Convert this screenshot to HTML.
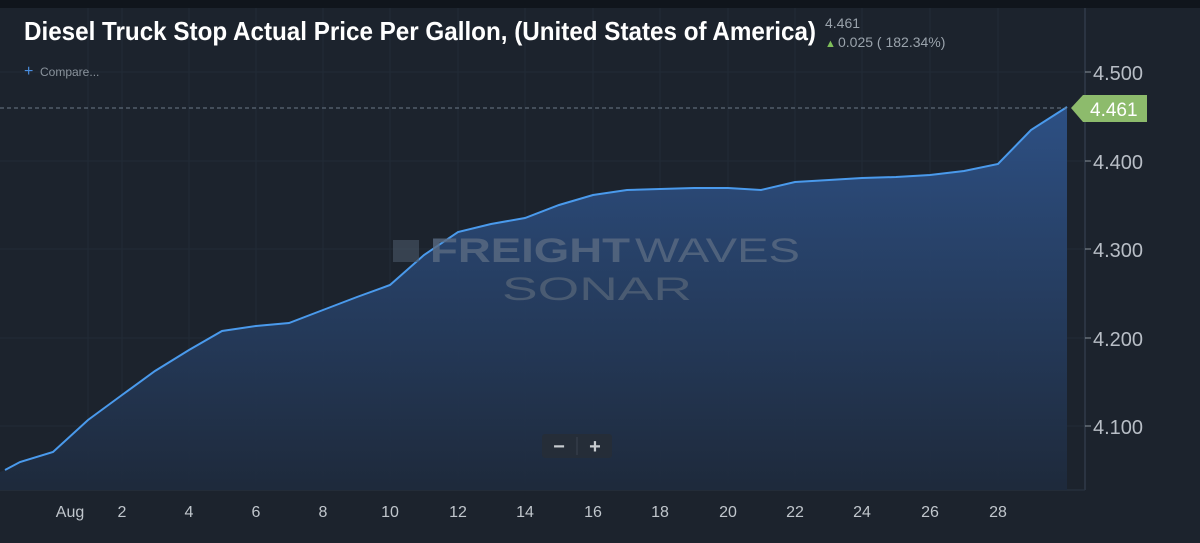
<!DOCTYPE html>
<html><head><style>
body{margin:0;background:#1c232d;}
svg{display:block}
</style></head><body>
<svg width="1200" height="543" xmlns="http://www.w3.org/2000/svg" font-family="Liberation Sans, sans-serif">
<defs>
<linearGradient id="g" x1="0" y1="0" x2="0" y2="1">
<stop offset="0" stop-color="#2e5288"/>
<stop offset="1" stop-color="#1e2a3c"/>
</linearGradient>
</defs>
<rect width="1200" height="543" fill="#1c232d"/>
<rect width="1200" height="8" fill="#10151c"/>
<g stroke="#222b36" stroke-width="1">
<line x1="0" y1="72" x2="1085" y2="72"/><line x1="0" y1="161" x2="1085" y2="161"/>
<line x1="0" y1="249" x2="1085" y2="249"/><line x1="0" y1="338" x2="1085" y2="338"/>
<line x1="0" y1="426" x2="1085" y2="426"/>
<line x1="88" y1="8" x2="88" y2="490"/><line x1="122" y1="8" x2="122" y2="490"/><line x1="189" y1="8" x2="189" y2="490"/><line x1="256" y1="8" x2="256" y2="490"/><line x1="323" y1="8" x2="323" y2="490"/><line x1="390" y1="8" x2="390" y2="490"/><line x1="458" y1="8" x2="458" y2="490"/><line x1="525" y1="8" x2="525" y2="490"/><line x1="593" y1="8" x2="593" y2="490"/><line x1="660" y1="8" x2="660" y2="490"/><line x1="728" y1="8" x2="728" y2="490"/><line x1="795" y1="8" x2="795" y2="490"/><line x1="862" y1="8" x2="862" y2="490"/><line x1="930" y1="8" x2="930" y2="490"/><line x1="998" y1="8" x2="998" y2="490"/>
</g>
<line x1="1085" y1="8" x2="1085" y2="490" stroke="#3a4656"/>
<line x1="0" y1="490" x2="1085" y2="490" stroke="#2a3442"/>
<path d="M5,470 L20,462 L53,452 L88,420 L122,395 L155,371 L189,350 L222,331 L256,326 L289,323 L323,310 L357,297 L390,285 L424,255 L458,232 L491,224 L525,218 L559,205 L593,195 L627,190 L660,189 L694,188 L728,188 L761,190 L795,182 L829,180 L862,178 L896,177 L930,175 L964,171 L998,164 L1031,130 L1067,107 L1067,490 L0,490 L0,472 Z" fill="url(#g)" opacity="0.95"/>
<path d="M5,470 L20,462 L53,452 L88,420 L122,395 L155,371 L189,350 L222,331 L256,326 L289,323 L323,310 L357,297 L390,285 L424,255 L458,232 L491,224 L525,218 L559,205 L593,195 L627,190 L660,189 L694,188 L728,188 L761,190 L795,182 L829,180 L862,178 L896,177 L930,175 L964,171 L998,164 L1031,130 L1067,107" fill="none" stroke="#4a9aec" stroke-width="2"/>
<line x1="0" y1="108" x2="1067" y2="108" stroke="#6b7a88" stroke-dasharray="4,3"/>
<text x="430" y="262" font-size="34" font-weight="bold" fill="#5a6b82" opacity="0.8" textLength="200" lengthAdjust="spacingAndGlyphs">FREIGHT</text>
<text x="635" y="262" font-size="34" fill="#5a6b82" opacity="0.8" textLength="165" lengthAdjust="spacingAndGlyphs">WAVES</text>
<rect x="393" y="240" width="26" height="22" fill="#4a5668" opacity="0.6"/>
<text x="502" y="300" font-size="32" fill="#4a5b72" textLength="190" lengthAdjust="spacingAndGlyphs">SONAR</text>
<rect x="542" y="434" width="70" height="24" rx="3" fill="#252d38"/>
<text x="559" y="453" font-size="20" font-weight="bold" fill="#c8ccd0" text-anchor="middle">−</text>
<text x="595" y="453" font-size="20" font-weight="bold" fill="#c8ccd0" text-anchor="middle">+</text>
<line x1="577" y1="437" x2="577" y2="455" stroke="#3a4350"/>
<text x="24" y="40" font-size="26" font-weight="bold" fill="#fff" font-family="Liberation Sans Narrow, Liberation Sans, sans-serif" textLength="792" lengthAdjust="spacingAndGlyphs">Diesel Truck Stop Actual Price Per Gallon, (United States of America)</text>
<text x="825" y="28" font-size="14" fill="#9aa3ac">4.461</text>
<text x="825" y="47" font-size="11" fill="#7fbf5a">▲</text>
<text x="838" y="47" font-size="14" fill="#9aa3ac">0.025 ( 182.34%)</text>
<text x="24" y="76" font-size="16" fill="#4a8ee0">+</text>
<text x="40" y="76" font-size="12" fill="#8a939c">Compare...</text>
<g font-size="20" fill="#b8bec6">
<text x="1093" y="80">4.500</text><text x="1093" y="169">4.400</text><text x="1093" y="257">4.300</text><text x="1093" y="346">4.200</text><text x="1093" y="434">4.100</text>
</g>
<line x1="1085" y1="72" x2="1091" y2="72" stroke="#8a939c"/>
<line x1="1085" y1="161" x2="1091" y2="161" stroke="#8a939c"/>
<line x1="1085" y1="249" x2="1091" y2="249" stroke="#8a939c"/>
<line x1="1085" y1="338" x2="1091" y2="338" stroke="#8a939c"/>
<line x1="1085" y1="426" x2="1091" y2="426" stroke="#8a939c"/>
<path d="M1071,108 L1083,95 L1147,95 L1147,122 L1083,122 Z" fill="#8dbb6c"/>
<text x="1090" y="116" font-size="19" fill="#fff">4.461</text>
<g font-size="16" fill="#c0c6cc" text-anchor="middle">
<text x="70" y="517">Aug</text><text x="122" y="517">2</text><text x="189" y="517">4</text><text x="256" y="517">6</text><text x="323" y="517">8</text><text x="390" y="517">10</text><text x="458" y="517">12</text><text x="525" y="517">14</text><text x="593" y="517">16</text><text x="660" y="517">18</text><text x="728" y="517">20</text><text x="795" y="517">22</text><text x="862" y="517">24</text><text x="930" y="517">26</text><text x="998" y="517">28</text>
</g>
</svg>
</body></html>
